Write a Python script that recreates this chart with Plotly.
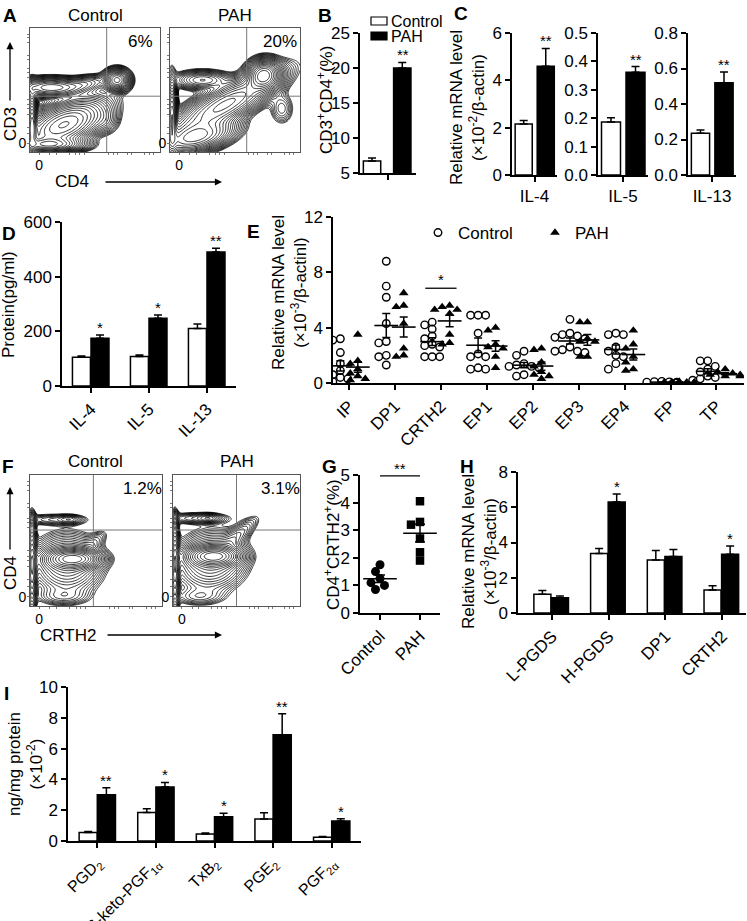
import numpy as np
import plotly.graph_objects as go

W, H = 747, 921
FONT = "Liberation Sans, Arial, Helvetica, sans-serif"

# ------------------------------------------------------------------ data
# A / F : flow cytometry contour blobs (cx, cy, s_major, s_minor, angle_deg, weight) in unit box coords
a_control_blobs = [(0.67, 0.58, 0.05, 0.045, 0, 0.7), (0.16, 0.52, 0.13, 0.04, 0, 0.5),
                   (0.42, 0.55, 0.10, 0.035, 10, 0.15), (0.26, 0.22, 0.17, 0.08, 25, 1.0),
                   (0.015, 0.22, 0.02, 0.13, 0, 1.0), (0.15, 0.06, 0.13, 0.03, 0, 0.8),
                   (0.58, 0.25, 0.06, 0.06, 0, 0.06)]
a_pah_blobs = [(0.72, 0.62, 0.065, 0.06, 30, 1.4), (0.25, 0.58, 0.11, 0.04, 0, 0.3),
               (0.42, 0.38, 0.24, 0.07, 30, 0.9), (0.015, 0.28, 0.02, 0.15, 0, 1.0),
               (0.2, 0.12, 0.15, 0.06, 15, 0.9), (0.86, 0.35, 0.05, 0.07, 0, 0.08)]
f_control_blobs = [(0.18, 0.66, 0.15, 0.025, 0, 0.15), (0.30, 0.66, 0.05, 0.02, 0, 0.15),
                   (0.015, 0.66, 0.015, 0.03, 0, 0.3), (0.28, 0.32, 0.14, 0.12, 0, 0.5),
                   (0.33, 0.36, 0.11, 0.04, 0, 1.2), (0.50, 0.50, 0.07, 0.035, 40, 0.08),
                   (0.015, 0.30, 0.02, 0.2, 0, 0.5), (0.25, 0.07, 0.12, 0.04, 0, 0.12)]
f_pah_blobs = [(0.18, 0.67, 0.15, 0.025, 0, 0.18), (0.28, 0.67, 0.05, 0.02, 0, 0.18),
               (0.015, 0.67, 0.015, 0.03, 0, 0.3), (0.52, 0.55, 0.12, 0.04, 40, 0.15),
               (0.30, 0.34, 0.15, 0.12, 10, 0.5), (0.32, 0.38, 0.11, 0.04, 0, 1.2),
               (0.015, 0.30, 0.02, 0.2, 0, 0.5), (0.20, 0.07, 0.12, 0.04, 0, 0.12)]
a_percent = ["6%", "20%"]
f_percent = ["1.2%", "3.1%"]
a_gate = [(0.59, 0.45), (0.59, 0.45)]
f_gate = [(0.48, 0.58), (0.50, 0.58)]

# B
b_groups = ["Control", "PAH"]
b_values = [6.7, 20.0]
b_errors = [0.45, 0.8]

# C
c_genes = ["IL-4", "IL-5", "IL-13"]
c_control = [2.15, 0.187, 0.235]
c_control_err = [0.15, 0.015, 0.018]
c_pah = [4.6, 0.362, 0.52]
c_pah_err = [0.75, 0.02, 0.06]
c_yranges = [[0, 6], [0, 0.5], [0, 0.8]]
c_yticks = [[0, 2, 4, 6], [0.0, 0.1, 0.2, 0.3, 0.4, 0.5], [0.0, 0.2, 0.4, 0.6, 0.8]]
c_stars = ["**", "**", "**"]

# D
d_cats = ["IL-4", "IL-5", "IL-13"]
d_control = [105, 108, 210]
d_control_err = [5, 5, 17]
d_pah = [175, 248, 490]
d_pah_err = [12, 12, 14]
d_stars = ["*", "*", "**"]

# E
e_cats = ["IP", "DP1", "CRTH2", "EP1", "EP2", "EP3", "EP4", "FP", "TP"]
e_control = [
    [3.2, 3.1, 2.2, 1.4, 0.9, 0.6, 0.4, 0.3, 0.2, 0.1],
    [8.8, 7.0, 6.2, 4.3, 3.0, 2.9, 2.0, 1.9, 1.3],
    [4.4, 4.2, 3.9, 3.4, 3.2, 2.8, 2.7, 2.6, 1.9, 1.9, 1.9],
    [4.9, 4.9, 4.9, 3.6, 2.1, 1.9, 1.9, 1.1, 1.0, 1.0],
    [2.3, 2.0, 1.4, 1.3, 1.2, 1.2, 1.1, 0.6, 0.5],
    [4.6, 3.6, 3.5, 3.4, 3.3, 3.2, 2.6, 2.4, 2.3, 2.3, 2.2],
    [3.6, 3.5, 3.5, 2.6, 2.3, 2.0, 1.9, 1.4, 1.0],
    [0.12, 0.10, 0.08, 0.06, 0.05, 0.04, 0.03, 0.02],
    [1.6, 1.6, 1.2, 1.0, 0.8, 0.5, 0.4, 0.3, 0.2],
]
e_pah = [
    [3.5, 1.6, 1.4, 1.0, 0.7, 0.5, 0.3, 0.2],
    [6.5, 5.6, 5.5, 4.3, 2.5, 2.0, 1.9],
    [5.6, 5.5, 5.3, 5.3, 5.0, 3.5, 2.9, 2.8],
    [4.0, 3.8, 2.8, 2.6, 2.5, 1.9, 1.1],
    [2.5, 2.4, 1.5, 1.2, 0.8, 0.6, 0.5, 0.3],
    [4.4, 4.4, 3.2, 3.0, 3.0, 1.9, 1.9],
    [3.8, 2.8, 2.5, 1.9, 1.5, 1.0, 0.9],
    [0.10, 0.08, 0.06, 0.05, 0.04, 0.03, 0.02],
    [1.0, 0.8, 0.7, 0.6, 0.6, 0.5, 0.5],
]

# G
g_groups = ["Control", "PAH"]
g_control = [1.75, 1.5, 1.25, 1.1, 1.0, 0.85]
g_pah = [4.05, 3.3, 3.2, 2.7, 2.2, 1.9]

# H
h_cats = ["L-PGDS", "H-PGDS", "DP1", "CRTH2"]
h_control = [1.07, 3.38, 3.0, 1.3]
h_control_err = [0.2, 0.28, 0.55, 0.25]
h_pah = [0.87, 6.3, 3.2, 3.33]
h_pah_err = [0.1, 0.45, 0.4, 0.47]
h_stars = ["", "*", "", "*"]

# I
i_cats = ["PGD<sub>2</sub>", "6-keto-PGF<sub>1α</sub>", "TxB<sub>2</sub>", "PGE<sub>2</sub>", "PGF<sub>2α</sub>"]
i_control = [0.55, 1.85, 0.45, 1.43, 0.25]
i_control_err = [0.07, 0.25, 0.07, 0.41, 0.05]
i_pah = [3.0, 3.5, 1.57, 6.9, 1.3]
i_pah_err = [0.45, 0.3, 0.23, 1.37, 0.15]
i_stars = ["**", "*", "*", "**", "*"]

# ------------------------------------------------------------------ helpers
layout = dict(width=W, height=H, margin=dict(l=0, r=0, t=0, b=0, autoexpand=False),
              paper_bgcolor="white", plot_bgcolor="white",
              font=dict(family=FONT, size=17, color="black"),
              barmode="overlay", showlegend=True)
traces, annotations, shapes = [], [], []
_n = [0]


def px(x):
    return x / W


def py(y):
    return 1 - y / H


def add_axes(xpx, ypx, xkw=None, ykw=None):
    _n[0] += 1
    n = _n[0]
    sfx = "" if n == 1 else str(n)
    base = dict(showline=True, linecolor="black", linewidth=1.5, ticks="outside",
                tickcolor="black", tickwidth=1.5, ticklen=5, showgrid=False, automargin=False,
                zeroline=False, tickfont=dict(size=17, color="black"), fixedrange=True)
    xa = dict(base, domain=[px(xpx[0]), px(xpx[1])], anchor="y" + sfx)
    ya = dict(base, domain=[py(ypx[1]), py(ypx[0])], anchor="x" + sfx)
    xa.update(xkw or {})
    ya.update(ykw or {})
    layout["xaxis" + sfx] = xa
    layout["yaxis" + sfx] = ya
    return "x" + sfx, "y" + sfx


def ann(x, y, text, size=17, angle=0, xanchor="center", yanchor="middle", bold=False):
    annotations.append(dict(x=px(x), y=py(y), xref="paper", yref="paper", text=text,
                            showarrow=False, textangle=angle, xanchor=xanchor, yanchor=yanchor,
                            font=dict(size=size, family=FONT, color="black",
                                      weight="bold" if bold else "normal")))


def arrow(x0, y0, x1, y1):
    annotations.append(dict(x=px(x1), y=py(y1), ax=x0 - x1, ay=y0 - y1, xref="paper", yref="paper",
                            axref="pixel", ayref="pixel", text="", showarrow=True,
                            arrowhead=2, arrowsize=1.1, arrowwidth=1.3, arrowcolor="black"))


def bars(xr, yr, ctrl, ctrl_err, pah, pah_err, width, off_c, off_p, stars=None):
    idx = list(range(len(ctrl)))
    eb = dict(type="data", symmetric=False, color="black", thickness=1.5, width=4)
    traces.append(go.Bar(x=idx, y=ctrl, width=width, offset=off_c, xaxis=xr, yaxis=yr,
                         marker=dict(color="white", line=dict(color="black", width=1.5)),
                         error_y=dict(eb, array=ctrl_err, arrayminus=[0] * len(ctrl)),
                         name="Control", showlegend=False, hoverinfo="skip"))
    traces.append(go.Bar(x=idx, y=pah, width=width, offset=off_p, xaxis=xr, yaxis=yr,
                         marker=dict(color="black", line=dict(color="black", width=1.5)),
                         error_y=dict(eb, array=pah_err, arrayminus=[0] * len(pah)),
                         name="PAH", showlegend=False, hoverinfo="skip"))
    if stars:
        for i, s in enumerate(stars):
            if s:
                annotations.append(dict(x=i + off_p + width / 2, y=pah[i] + pah_err[i], xref=xr, yref=yr,
                                        text=s, showarrow=False, yanchor="bottom", yshift=-3,
                                        font=dict(size=15, family=FONT, color="black")))


def density(blobs, n=121):
    g = np.linspace(0, 1, n)
    X, Y = np.meshgrid(g, g)
    Z = np.zeros_like(X)
    for cx, cy, sa, sb, ang, w in blobs:
        t = np.radians(ang)
        dx, dy = X - cx, Y - cy
        u = dx * np.cos(t) + dy * np.sin(t)
        v = -dx * np.sin(t) + dy * np.cos(t)
        Z += w * np.exp(-0.5 * ((u / sa) ** 2 + (v / sb) ** 2))
    return g, np.log10(Z + 1e-8)


def flow(xpx, ypx, blobs, gate, pct, title, title_y, span=1.9, step=0.09):
    flow_ax = dict(range=[0, 1], mirror=True, linecolor="#555", linewidth=1, ticks="",
                   tickfont=dict(size=14), tickmode="array", tickvals=[0.07], ticktext=["0"],
                   minor=dict(ticks="outside", ticklen=2, tickcolor="#777", tickmode="array",
                              tickvals=[0.07, 0.15, 0.2, 0.3, 0.35, 0.38, 0.42, 0.6, 0.64, 0.67,
                                        0.75, 0.78, 0.88, 0.92, 0.95]))
    xr, yr = add_axes(xpx, ypx, dict(flow_ax), dict(flow_ax))
    g, Z = density(blobs)
    zmax = Z.max()
    traces.append(go.Contour(x=g, y=g, z=Z, xaxis=xr, yaxis=yr, showscale=False,
                             contours=dict(coloring="lines", start=zmax - span, end=zmax - 0.04, size=step),
                             colorscale=[[0, "black"], [1, "black"]], line=dict(width=0.8),
                             hoverinfo="skip", showlegend=False))
    shapes.append(dict(type="line", xref=xr, yref=yr + " domain", x0=gate[0], x1=gate[0], y0=0, y1=1,
                       line=dict(color="#777", width=1)))
    shapes.append(dict(type="line", xref=xr + " domain", yref=yr, x0=0, x1=1, y0=gate[1], y1=gate[1],
                       line=dict(color="#777", width=1)))
    ann((xpx[0] + xpx[1]) / 2, title_y, title)
    ann(xpx[1] - 20, ypx[0] + 13, pct)


def swarm(vals, center, xscale, yscale, diam):
    placed = []
    xs = [0.0] * len(vals)
    for idx in np.argsort(vals)[::-1]:
        yv = vals[idx] * yscale
        xo = 0.0
        for k in [0, -1, 1, -2, 2, -3, 3, -4, 4]:
            xo = k * diam * 0.5
            if all((xo - a) ** 2 + (yv - b) ** 2 >= (diam * 0.9) ** 2 for a, b in placed):
                break
        placed.append((xo, yv))
        xs[idx] = center + xo / xscale
    return xs


# ------------------------------------------------------------------ A
flow((30, 160), (28, 152), a_control_blobs, a_gate[0], a_percent[0], "Control", 15)
flow((170, 300), (28, 152), a_pah_blobs, a_gate[1], a_percent[1], "PAH", 15)
ann(10, 124, "CD3", angle=-90)
arrow(10, 102, 10, 42)
ann(72, 182, "CD4")
arrow(104, 182, 222, 182)

# ------------------------------------------------------------------ B
xr, yr = add_axes((360, 416), (33, 173), dict(range=[-0.5, 0.5], tickvals=[0], ticktext=[""]),
                  dict(range=[5, 25], tickvals=[5, 10, 15, 20, 25]))
b_fill = ["white", "black"]
b_off = [-0.44, 0.1]
for k in range(2):
    traces.append(go.Bar(x=[0], y=[b_values[k]], width=0.31, offset=b_off[k], xaxis=xr, yaxis=yr,
                         marker=dict(color=b_fill[k], line=dict(color="black", width=1.5)),
                         error_y=dict(type="data", array=[b_errors[k]], arrayminus=[0], symmetric=False,
                                      color="black", thickness=1.5, width=4),
                         name=b_groups[k], showlegend=False, hoverinfo="skip"))
    # legend swatch + label
    shapes.append(dict(type="rect", xref="paper", yref="paper", x0=px(371), x1=px(387),
                       y0=py(25 + 15 * k), y1=py(17 + 15 * k), fillcolor=b_fill[k],
                       line=dict(color="black", width=1.2)))
    ann(389, 21 + 15 * k, b_groups[k], size=16, xanchor="left")
annotations.append(dict(x=0.26, y=b_values[1] + b_errors[1], xref=xr, yref=yr, text="**", showarrow=False,
                        yanchor="bottom", yshift=-3, font=dict(size=15, family=FONT)))
ann(325, 100, "CD3<sup>+</sup>CD4<sup>+</sup>(%)", angle=-90)

# ------------------------------------------------------------------ C
c_px = [(512, 557), (598, 648), (688, 736)]
for k in range(3):
    xr, yr = add_axes(c_px[k], (33, 175), dict(range=[-0.5, 0.5], tickvals=[0], ticktext=[c_genes[k]]),
                      dict(range=c_yranges[k], tickvals=c_yticks[k],
                           tickformat="d" if k == 0 else ".1f"))
    bars(xr, yr, [c_control[k]], [c_control_err[k]], [c_pah[k]], [c_pah_err[k]],
         0.38, -0.43, 0.06, stars=[c_stars[k]])
ann(467, 108, "Relative mRNA level<br>(×10<sup>-2</sup>/β-actin)", angle=-90)

# ------------------------------------------------------------------ D
xr, yr = add_axes((62, 236), (222, 386),
                  dict(range=[-0.5, 2.5], tickvals=[0, 1, 2], ticktext=d_cats, tickangle=-45),
                  dict(range=[0, 600], tickvals=[0, 200, 400, 600]))
bars(xr, yr, d_control, d_control_err, d_pah, d_pah_err, 0.31, -0.32, 0.0, stars=d_stars)
ann(9, 305, "Protein(pg/ml)", angle=-90)

# ------------------------------------------------------------------ E
xr, yr = add_axes((333, 744), (217, 383),
                  dict(range=[-0.35, 8.6], tickvals=list(range(9)), ticktext=e_cats, tickangle=-45),
                  dict(range=[0, 12], tickvals=[0, 4, 8, 12]))
e_xs_c, e_ys_c, e_xs_p, e_ys_p = [], [], [], []
e_mean_c, e_sem_c, e_mean_p, e_sem_p = [], [], [], []
for i in range(len(e_cats)):
    vc, vp = np.array(e_control[i]), np.array(e_pah[i])
    e_xs_c += swarm(vc, i - 0.19, 45.9, 13.9, 7.5)
    e_ys_c += list(vc)
    e_xs_p += swarm(vp, i + 0.19, 45.9, 13.9, 7.5)
    e_ys_p += list(vp)
    e_mean_c.append(vc.mean()); e_sem_c.append(vc.std(ddof=1) / np.sqrt(len(vc)))
    e_mean_p.append(vp.mean()); e_sem_p.append(vp.std(ddof=1) / np.sqrt(len(vp)))
traces.append(go.Scatter(x=e_xs_c, y=e_ys_c, mode="markers", xaxis=xr, yaxis=yr, name="Control",
                         legend="legend", hoverinfo="skip",
                         marker=dict(symbol="circle-open", size=7.5, color="black", line=dict(width=1.4))))
traces.append(go.Scatter(x=e_xs_p, y=e_ys_p, mode="markers", xaxis=xr, yaxis=yr, name="PAH",
                         legend="legend", hoverinfo="skip",
                         marker=dict(symbol="triangle-up", size=8.5, color="black")))
for off, m, s in [(-0.19, e_mean_c, e_sem_c), (0.19, e_mean_p, e_sem_p)]:
    traces.append(go.Scatter(x=[i + off for i in range(len(e_cats))], y=m, mode="markers",
                             xaxis=xr, yaxis=yr, showlegend=False, hoverinfo="skip",
                             marker=dict(symbol="line-ew", size=17, color="black",
                                         line=dict(width=1.6, color="black")),
                             error_y=dict(type="data", array=s, color="black", thickness=1.5, width=4)))
shapes.append(dict(type="line", xref=xr, yref=yr, x0=2 - 0.34, x1=2 + 0.34, y0=6.85, y1=6.85,
                   line=dict(color="black", width=1.3)))
annotations.append(dict(x=2, y=6.85, xref=xr, yref=yr, text="*", showarrow=False, yanchor="bottom",
                        yshift=-2, font=dict(size=15, family=FONT)))
ann(290, 293, "Relative mRNA level<br>(×10<sup>-3</sup>/β-actinl)", angle=-90)

# ------------------------------------------------------------------ F
flow((30, 162), (475, 606), f_control_blobs, f_gate[0], f_percent[0], "Control", 461, span=1.6, step=0.08)
flow((173, 300), (475, 606), f_pah_blobs, f_gate[1], f_percent[1], "PAH", 461, span=1.6, step=0.08)
ann(10, 573, "CD4", angle=-90)
arrow(10, 551, 10, 487)
ann(68, 635, "CRTH2")
arrow(106, 635, 222, 635)

# ------------------------------------------------------------------ G
xr, yr = add_axes((360, 440), (475, 613),
                  dict(range=[-0.5, 1.5], tickvals=[0, 1], ticktext=g_groups, tickangle=-45),
                  dict(range=[0, 5], tickvals=[0, 1, 2, 3, 4, 5]))
gc, gp = np.array(g_control), np.array(g_pah)
traces.append(go.Scatter(x=swarm(gc, 0, 40, 27.6, 9), y=gc, mode="markers", xaxis=xr, yaxis=yr,
                         showlegend=False, hoverinfo="skip",
                         marker=dict(symbol="circle", size=9, color="black")))
traces.append(go.Scatter(x=swarm(gp, 1, 40, 27.6, 9), y=gp, mode="markers", xaxis=xr, yaxis=yr,
                         showlegend=False, hoverinfo="skip",
                         marker=dict(symbol="square", size=8.5, color="black")))
traces.append(go.Scatter(x=[0, 1], y=[gc.mean(), gp.mean()], mode="markers", xaxis=xr, yaxis=yr,
                         showlegend=False, hoverinfo="skip",
                         marker=dict(symbol="line-ew", size=24, color="black", line=dict(width=1.6, color="black")),
                         error_y=dict(type="data", array=[gc.std(ddof=1) / np.sqrt(len(gc)),
                                                          gp.std(ddof=1) / np.sqrt(len(gp))],
                                      color="black", thickness=1.5, width=5)))
shapes.append(dict(type="line", xref=xr, yref=yr, x0=0, x1=1, y0=4.97, y1=4.97,
                   line=dict(color="black", width=1.3)))
annotations.append(dict(x=0.5, y=4.97, xref=xr, yref=yr, text="**", showarrow=False, yanchor="bottom",
                        yshift=-3, font=dict(size=15, family=FONT)))
ann(332, 545, "CD4<sup>+</sup>CRTH2<sup>+</sup>(%)", angle=-90)

# ------------------------------------------------------------------ H
xr, yr = add_axes((518, 746), (472, 613),
                  dict(range=[-0.6, 3.42], tickvals=[0, 1, 2, 3], ticktext=h_cats, tickangle=-45),
                  dict(range=[0, 8], tickvals=[0, 2, 4, 6, 8]))
bars(xr, yr, h_control, h_control_err, h_pah, h_pah_err, 0.3, -0.32, -0.01, stars=h_stars)
ann(479, 552, "Relative mRNA level<br>(×10<sup>-3</sup>/β-actin)", angle=-90)

# ------------------------------------------------------------------ I
xr, yr = add_axes((68, 361), (687, 841),
                  dict(range=[-0.5, 4.5], tickvals=[0, 1, 2, 3, 4], ticktext=i_cats, tickangle=-45,
                       tickfont=dict(size=16, color="black")),
                  dict(range=[0, 10], tickvals=[0, 2, 4, 6, 8, 10]))
bars(xr, yr, i_control, i_control_err, i_pah, i_pah_err, 0.31, -0.31, 0.0, stars=i_stars)
ann(25, 764, "ng/mg protein<br>(×10<sup>-2</sup>)", angle=-90)

# ------------------------------------------------------------------ panel letters
for letter, (lx, ly) in {"A": (1, 3), "B": (316, 3), "C": (452, 1), "D": (0, 221), "E": (245, 219),
                         "F": (0, 454), "G": (320, 454), "H": (458, 454), "I": (2, 681)}.items():
    ann(lx, ly, letter, size=19, xanchor="left", yanchor="top", bold=True)

layout["annotations"] = annotations
layout["shapes"] = shapes
layout["legend"] = dict(orientation="h", x=px(418), y=py(215), xanchor="left", yanchor="top",
                        bgcolor="rgba(0,0,0,0)", font=dict(size=17), entrywidth=72)

fig = go.Figure(data=traces, layout=layout)
fig.write_html("out.html", config={"displayModeBar": False},
               post_script="document.body.style.margin='0px';document.body.style.overflow='hidden';")
